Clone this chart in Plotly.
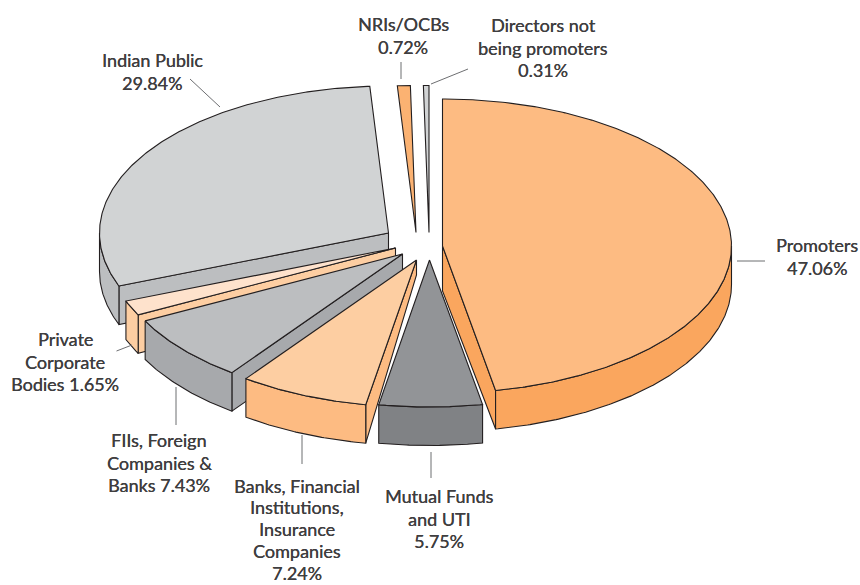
import numpy as np
import plotly.graph_objects as go

# Shareholding pattern, percent of equity, clockwise from twelve o'clock
holders = ["Promoters", "Mutual Funds and UTI",
           "Banks, Financial Institutions, Insurance Companies",
           "FIIs, Foreign Companies & Banks", "Private Corporate Bodies",
           "Indian Public", "NRIs/OCBs", "Directors not being promoters"]
shares = [47.06, 5.75, 7.24, 7.43, 1.65, 29.84, 0.72, 0.31]

# Slice styling
top_colors = ["#FDBB82", "#929497", "#FDCEA2", "#BCBEC0", "#FEE2CC", "#D1D3D4", "#FBB272", "#D1D3D4"]
wall_colors = ["#FAA65E", "#808285", "#FDBB82", "#A7A9AC", "#FDCEA2", "#BCBEC0", "#FAA65E", "#BCBEC0"]

# Exploded apex of each slice on the page
apex_x = [442.5, 429.5, 416.5, 402.5, 395.5, 388.5, 416, 429]
apex_y = [246, 260, 260, 254, 248, 233, 232.5, 232.5]
# Which radial cut shows a side wall, and how deep the wall is at the apex
radial_side = ["end", None, "start", "start", "start", "start", None, None]
apex_depth = [45, 38, 15, 38, 38, 38, 38, 38]

RX, RY, DEPTH = 289, 147, 38.5
INK, LEADER, TEXT = "#231F20", "#6D6E71", "#3F3E40"

# Drawing order, back to front
paint_order = [5, 6, 7, 4, 3, 0, 2, 1]

# Callouts: lines of text, centre x, first line centre y, line step
callouts = [
    (["Promoters", "47.06%"], 817, 245, 22.6),
    (["Mutual Funds", "and UTI", "5.75%"], 439, 496, 22.6),
    (["Banks, Financial", "Institutions,", "Insurance", "Companies", "7.24%"], 297, 485.5, 21.9),
    (["FIIs, Foreign", "Companies &", "Banks 7.43%"], 159, 440, 22.6),
    (["Private", "Corporate", "Bodies 1.65%"], 65, 339, 22.6),
    (["Indian Public", "29.84%"], 152, 60, 22.6),
    (["NRIs/OCBs", "0.72%"], 403, 24, 22.6),
    (["Directors not", "being promoters", "0.31%"], 543, 25, 22.6),
]
leaders = [
    (737, 261, 765, 261), (431, 452, 431, 478), (302, 435, 302, 464),
    (176, 387, 176, 425), (116.5, 351, 132, 345), (190, 79, 220, 107),
    (401, 62, 401, 79), (431, 84, 468, 69),
]

edges = np.cumsum([0] + shares) * 3.6


def rim(cx, cy, start, stop):
    """Points on the top ellipse between two clockwise angles in degrees."""
    t = np.radians(np.linspace(start, stop, max(int(abs(stop - start) * 2), 2) + 1))
    return cx + RX * np.sin(t), cy - RY * np.cos(t)


def poly(xs, ys, fill, name):
    return go.Scatter(x=np.round(xs, 2), y=np.round(ys, 2), mode="lines", fill="toself",
                      fillcolor=fill, line=dict(color=INK, width=1.1),
                      hoverinfo="text", text=name, showlegend=False)


fig = go.Figure()
for i in paint_order:
    a0, a1 = edges[i], edges[i + 1]
    cx, cy = apex_x[i], apex_y[i]
    name = f"{holders[i]}: {shares[i]}%"

    # Side wall along the exposed radial cut
    if radial_side[i]:
        ang = a1 if radial_side[i] == "end" else a0
        ex, ey = rim(cx, cy, ang, ang + 1e-6)
        fig.add_trace(poly([cx, ex[0], ex[0], cx, cx],
                           [cy, ey[0], ey[0] + DEPTH, cy + apex_depth[i], cy],
                           wall_colors[i], name))

    # Curved outer wall on the front half of the ellipse
    lo, hi = max(a0, 90), min(a1, 270)
    if lo < hi:
        ax, ay = rim(cx, cy, lo, hi)
        fig.add_trace(poly(np.r_[ax, ax[::-1], ax[0]],
                           np.r_[ay, ay[::-1] + DEPTH, ay[0]],
                           wall_colors[i], name))

    # Top face
    tx, ty = rim(cx, cy, a0, a1)
    fig.add_trace(poly(np.r_[cx, tx, cx], np.r_[cy, ty, cy], top_colors[i], name))

for x0, y0, x1, y1 in leaders:
    fig.add_shape(type="line", x0=x0, y0=y0, x1=x1, y1=y1,
                  line=dict(color=LEADER, width=1))

for lines, x, y, step in callouts:
    for n, line in enumerate(lines):
        fig.add_annotation(x=x, y=y + n * step, text=line, showarrow=False,
                           xanchor="center", yanchor="middle", align="center",
                           font=dict(family="Lato", size=18, color=TEXT,
                                     shadow="0.2px 0 0 #3F3E40"))

fig.update_layout(
    width=860, height=585, margin=dict(l=0, r=0, t=0, b=0),
    paper_bgcolor="white", plot_bgcolor="white", showlegend=False,
    xaxis=dict(range=[0, 860], visible=False, fixedrange=True),
    yaxis=dict(range=[585, 0], visible=False, fixedrange=True),
)

fig.write_html("out.html", config={"displayModeBar": False})
